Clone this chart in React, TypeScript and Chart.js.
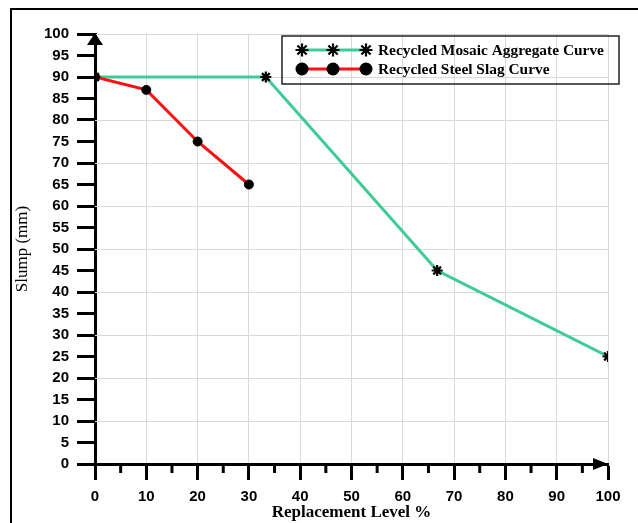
import React, { useEffect, useRef } from "react";
import { Chart, registerables } from "chart.js";

Chart.register(...registerables);

const seriesNames = ["Recycled Mosaic Aggregate Curve", "Recycled Steel Slag Curve"];
const mosaicX = [0, 33.3, 66.7, 100];
const mosaicY = [90, 90, 45, 25];
const slagX = [0, 10, 20, 30];
const slagY = [90, 87, 75, 65];
const yGridValues = [10, 20, 30, 40, 50, 60, 70, 80, 90, 100];
const xTitle = "Replacement Level %";
const yTitle = "Slump (mm)";

const GREEN = "#3fcb98";
const RED = "#ff1010";

function drawStar(ctx: CanvasRenderingContext2D, x: number, y: number, r: number) {
  ctx.save();
  ctx.strokeStyle = "#000";
  ctx.lineWidth = 2.2;
  ctx.beginPath();
  for (let i = 0; i < 4; i++) {
    const a = (i * Math.PI) / 4;
    ctx.moveTo(x - r * Math.cos(a), y - r * Math.sin(a));
    ctx.lineTo(x + r * Math.cos(a), y + r * Math.sin(a));
  }
  ctx.stroke();
  ctx.restore();
}

function drawDot(ctx: CanvasRenderingContext2D, x: number, y: number, r: number) {
  ctx.save();
  ctx.fillStyle = "#000";
  ctx.beginPath();
  ctx.arc(x, y, r, 0, Math.PI * 2);
  ctx.fill();
  ctx.restore();
}

const decor = {
  id: "decor",
  beforeDraw(chart: any) {
    const ctx = chart.ctx as CanvasRenderingContext2D;
    ctx.save();
    ctx.fillStyle = "#fff";
    ctx.fillRect(0, 0, chart.width, chart.height);
    ctx.strokeStyle = "#000";
    ctx.lineWidth = 2;
    ctx.strokeRect(11, 9, 800, 700);
    ctx.restore();
  },
  beforeDatasetsDraw(chart: any) {
    const ctx = chart.ctx as CanvasRenderingContext2D;
    const ys = chart.scales.y;
    const { left, right } = chart.chartArea;
    ctx.save();
    ctx.strokeStyle = "#d9d9d9";
    ctx.lineWidth = 1;
    yGridValues.forEach((v) => {
      const py = Math.round(ys.getPixelForValue(v)) + 0.5;
      ctx.beginPath();
      ctx.moveTo(left, py);
      ctx.lineTo(right, py);
      ctx.stroke();
    });
    ctx.restore();
  },
  afterDraw(chart: any) {
    const ctx = chart.ctx as CanvasRenderingContext2D;
    const xs = chart.scales.x;
    const ys = chart.scales.y;
    const x0 = xs.getPixelForValue(0);
    const xEnd = xs.getPixelForValue(100);
    const y0 = ys.getPixelForValue(0);
    const yTop = ys.getPixelForValue(100);
    ctx.save();
    // minor x ticks
    ctx.strokeStyle = "#000";
    ctx.lineWidth = 3;
    for (let v = 5; v < 100; v += 10) {
      const px = xs.getPixelForValue(v);
      ctx.beginPath();
      ctx.moveTo(px, y0);
      ctx.lineTo(px, y0 + 9);
      ctx.stroke();
    }
    // arrows
    ctx.fillStyle = "#000";
    ctx.beginPath();
    ctx.moveTo(x0, yTop - 1);
    ctx.lineTo(x0 - 8, yTop + 11);
    ctx.lineTo(x0 + 8, yTop + 11);
    ctx.closePath();
    ctx.fill();
    ctx.beginPath();
    ctx.moveTo(xEnd, y0);
    ctx.lineTo(xEnd - 15, y0 - 6);
    ctx.lineTo(xEnd - 15, y0 + 6);
    ctx.closePath();
    ctx.fill();

    // legend
    const bx = 282, by = 36, bw = 337, bh = 48;
    ctx.strokeStyle = "#222";
    ctx.lineWidth = 1.5;
    ctx.strokeRect(bx, by, bw, bh);
    const rows = [50, 69];
    const colors = [GREEN, RED];
    chart.data.datasets.forEach((ds: any, i: number) => {
      const yy = rows[i];
      ctx.strokeStyle = colors[i];
      ctx.lineWidth = 3;
      ctx.beginPath();
      ctx.moveTo(302, yy);
      ctx.lineTo(366, yy);
      ctx.stroke();
      [302, 333, 366].forEach((mx) => {
        if (i === 0) drawStar(ctx, mx, yy, 6.5);
        else drawDot(ctx, mx, yy, 6.5);
      });
      ctx.fillStyle = "#000";
      ctx.font = "bold 14px 'Liberation Serif', 'Times New Roman', serif";
      ctx.textBaseline = "middle";
      ctx.textAlign = "left";
      ctx.save();
      ctx.translate(378, yy + 1);
      ctx.scale(1.1, 1);
      ctx.fillText(ds.label, 0, 0);
      ctx.restore();
    });
    ctx.restore();
  },
};

export default function App() {
  const ref = useRef<HTMLCanvasElement | null>(null);
  useEffect(() => {
    if (!ref.current) return;
    const tickFont = { family: "'Liberation Sans', Arial, sans-serif", size: 15, weight: "bold" as const };
    const chart = new Chart(ref.current, {
      type: "scatter",
      data: {
        datasets: [
          {
            label: seriesNames[0],
            data: mosaicX.map((x, i) => ({ x, y: mosaicY[i] })),
            showLine: true,
            borderColor: GREEN,
            borderWidth: 3,
            pointStyle: "star",
            pointRadius: 5.5,
            pointBorderColor: "#000",
            pointBackgroundColor: "#000",
            pointBorderWidth: 2.2,
            order: 2,
          },
          {
            label: seriesNames[1],
            data: slagX.map((x, i) => ({ x, y: slagY[i] })),
            showLine: true,
            borderColor: RED,
            borderWidth: 3,
            pointStyle: "circle",
            pointRadius: 4.5,
            pointBorderColor: "#000",
            pointBackgroundColor: "#000",
            pointBorderWidth: 1,
            order: 1,
          },
        ],
      },
      options: {
        responsive: false,
        animation: false,
        layout: { padding: { top: 34, right: 30, left: 0, bottom: 0 } },
        plugins: { legend: { display: false }, tooltip: { enabled: false } },
        scales: {
          x: {
            type: "linear",
            min: 0,
            max: 100,
            afterFit: (s: any) => {
              s.height = 59;
            },
            ticks: { stepSize: 10, color: "#000", font: tickFont, padding: 8, autoSkip: false },
            grid: {
              color: "#d9d9d9",
              tickColor: "#000",
              tickLength: 16,
              tickWidth: 3,
              lineWidth: 1,
            },
            border: { color: "#000", width: 3 },
            title: {
              display: true,
              text: xTitle,
              color: "#000",
              font: { family: "'Liberation Serif', 'Times New Roman', serif", size: 17, weight: "bold" },
              padding: { top: 0, bottom: 0 },
            },
          },
          y: {
            type: "linear",
            min: 0,
            max: 100,
            afterFit: (s: any) => {
              s.width = 95;
            },
            ticks: { stepSize: 5, color: "#000", font: tickFont, padding: 8, autoSkip: false },
            grid: {
              drawOnChartArea: false,
              color: "#000",
              tickColor: "#000",
              tickLength: 18,
              tickWidth: 3,
            },
            border: { color: "#000", width: 3 },
            title: {
              display: true,
              text: yTitle,
              color: "#000",
              font: { family: "'Liberation Serif', 'Times New Roman', serif", size: 17, weight: "normal" },
              padding: { top: 12, bottom: 0 },
            },
          },
        },
      },
      plugins: [decor],
    });
    return () => chart.destroy();
  }, []);
  return (
    <div style={{ position: "absolute", left: 0, top: 0, width: 638, height: 523 }}>
      <canvas ref={ref} width={638} height={523} />
    </div>
  );
}
